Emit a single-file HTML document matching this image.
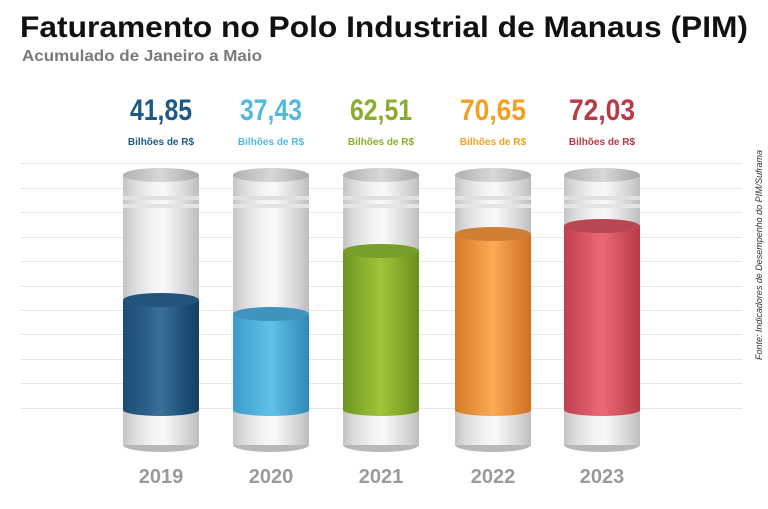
<!DOCTYPE html>
<html><head><style>
html,body{margin:0;padding:0;background:#fff;}
svg{display:block;font-family:"Liberation Sans",sans-serif;}
</style></head><body>
<svg width="768" height="509" viewBox="0 0 768 509" xmlns="http://www.w3.org/2000/svg">
<defs>
<linearGradient id="glass" x1="0" x2="1" y1="0" y2="0">
<stop offset="0" stop-color="#c4c4c4"/><stop offset="0.15" stop-color="#dcdcdc"/><stop offset="0.4" stop-color="#f4f4f4"/><stop offset="0.55" stop-color="#f8f8f8"/><stop offset="0.85" stop-color="#d4d4d4"/><stop offset="1" stop-color="#bdbdbd"/>
</linearGradient>
<linearGradient id="topin" x1="0" x2="1"><stop offset="0" stop-color="#b0b0b0"/><stop offset="0.5" stop-color="#d8d8d8"/><stop offset="1" stop-color="#a8a8a8"/></linearGradient>
<linearGradient id="g0" x1="0" x2="1"><stop offset="0" stop-color="#1d4d75"/><stop offset="0.3" stop-color="#2b5f8a"/><stop offset="0.5" stop-color="#3a7099"/><stop offset="0.8" stop-color="#1e4f78"/><stop offset="1" stop-color="#173f63"/></linearGradient>
<linearGradient id="g1" x1="0" x2="1"><stop offset="0" stop-color="#3a9cc9"/><stop offset="0.5" stop-color="#61c2ea"/><stop offset="1" stop-color="#2e88b5"/></linearGradient>
<linearGradient id="g2" x1="0" x2="1"><stop offset="0" stop-color="#6f9620"/><stop offset="0.5" stop-color="#9fc53a"/><stop offset="1" stop-color="#6a8f1c"/></linearGradient>
<linearGradient id="g3" x1="0" x2="1"><stop offset="0" stop-color="#d67a25"/><stop offset="0.5" stop-color="#fbaa55"/><stop offset="1" stop-color="#cf7020"/></linearGradient>
<linearGradient id="g4" x1="0" x2="1"><stop offset="0" stop-color="#c0404d"/><stop offset="0.5" stop-color="#ec6a77"/><stop offset="1" stop-color="#b83a47"/></linearGradient>
</defs>
<g stroke="#e6e6e6" stroke-width="1">
<line x1="20" x2="742" y1="163.5" y2="163.5"/><line x1="20" x2="742" y1="188.5" y2="188.5"/><line x1="20" x2="742" y1="212.5" y2="212.5"/><line x1="20" x2="742" y1="237.5" y2="237.5"/><line x1="20" x2="742" y1="261.5" y2="261.5"/><line x1="20" x2="742" y1="286.5" y2="286.5"/><line x1="20" x2="742" y1="310.5" y2="310.5"/><line x1="20" x2="742" y1="334.5" y2="334.5"/><line x1="20" x2="742" y1="359.5" y2="359.5"/><line x1="20" x2="742" y1="383.5" y2="383.5"/><line x1="20" x2="742" y1="408.5" y2="408.5"/>
</g>
<text x="20" y="37" font-size="30" font-weight="bold" fill="#111" textLength="728" lengthAdjust="spacingAndGlyphs">Faturamento no Polo Industrial de Manaus (PIM)</text>
<text x="22" y="61" font-size="16" font-weight="bold" fill="#7a7a7a" textLength="240" lengthAdjust="spacingAndGlyphs">Acumulado de Janeiro a Maio</text>
<text transform="translate(762,360) rotate(-90)" font-size="9" font-style="italic" fill="#333" textLength="210" lengthAdjust="spacingAndGlyphs">Fonte: Indicadores de Desempenho do PIM/Suframa</text>

<!-- cylinder template via repetition -->
<g id="c0">
<rect x="123" y="175" width="76" height="270" fill="url(#glass)"/>
<rect x="123" y="196" width="76" height="4" fill="#e0e0e0"/><rect x="123" y="204" width="76" height="4" fill="#e4e4e4"/>
<ellipse cx="161" cy="445" rx="38" ry="7" fill="#b8b8b8"/><rect x="123" y="436" width="76" height="9" fill="url(#glass)"/>
<ellipse cx="161" cy="175" rx="38" ry="7" fill="url(#topin)"/>
<rect x="123" y="300" width="76" height="110" fill="url(#g0)"/><ellipse cx="161" cy="410" rx="38" ry="6" fill="url(#g0)"/><ellipse cx="161" cy="300" rx="38" ry="7" fill="#24547c"/>
</g>
<g>
<rect x="233" y="175" width="76" height="270" fill="url(#glass)"/>
<rect x="233" y="196" width="76" height="4" fill="#e0e0e0"/><rect x="233" y="204" width="76" height="4" fill="#e4e4e4"/>
<ellipse cx="271" cy="445" rx="38" ry="7" fill="#b8b8b8"/><rect x="233" y="436" width="76" height="9" fill="url(#glass)"/>
<ellipse cx="271" cy="175" rx="38" ry="7" fill="url(#topin)"/>
<rect x="233" y="314" width="76" height="96" fill="url(#g1)"/><ellipse cx="271" cy="410" rx="38" ry="6" fill="url(#g1)"/><ellipse cx="271" cy="314" rx="38" ry="7" fill="#3f93bd"/>
</g>
<g>
<rect x="343" y="175" width="76" height="270" fill="url(#glass)"/>
<rect x="343" y="196" width="76" height="4" fill="#e0e0e0"/><rect x="343" y="204" width="76" height="4" fill="#e4e4e4"/>
<ellipse cx="381" cy="445" rx="38" ry="7" fill="#b8b8b8"/><rect x="343" y="436" width="76" height="9" fill="url(#glass)"/>
<ellipse cx="381" cy="175" rx="38" ry="7" fill="url(#topin)"/>
<rect x="343" y="251" width="76" height="159" fill="url(#g2)"/><ellipse cx="381" cy="410" rx="38" ry="6" fill="url(#g2)"/><ellipse cx="381" cy="251" rx="38" ry="7" fill="#789e2a"/>
</g>
<g>
<rect x="455" y="175" width="76" height="270" fill="url(#glass)"/>
<rect x="455" y="196" width="76" height="4" fill="#e0e0e0"/><rect x="455" y="204" width="76" height="4" fill="#e4e4e4"/>
<ellipse cx="493" cy="445" rx="38" ry="7" fill="#b8b8b8"/><rect x="455" y="436" width="76" height="9" fill="url(#glass)"/>
<ellipse cx="493" cy="175" rx="38" ry="7" fill="url(#topin)"/>
<rect x="455" y="234" width="76" height="176" fill="url(#g3)"/><ellipse cx="493" cy="410" rx="38" ry="6" fill="url(#g3)"/><ellipse cx="493" cy="234" rx="38" ry="7" fill="#cf7e34"/>
</g>
<g>
<rect x="564" y="175" width="76" height="270" fill="url(#glass)"/>
<rect x="564" y="196" width="76" height="4" fill="#e0e0e0"/><rect x="564" y="204" width="76" height="4" fill="#e4e4e4"/>
<ellipse cx="602" cy="445" rx="38" ry="7" fill="#b8b8b8"/><rect x="564" y="436" width="76" height="9" fill="url(#glass)"/>
<ellipse cx="602" cy="175" rx="38" ry="7" fill="url(#topin)"/>
<rect x="564" y="226" width="76" height="184" fill="url(#g4)"/><ellipse cx="602" cy="410" rx="38" ry="6" fill="url(#g4)"/><ellipse cx="602" cy="226" rx="38" ry="7" fill="#b84653"/>
</g>

<g font-weight="bold" text-anchor="middle">
<text x="161" y="120" font-size="30" fill="#1c5a85" textLength="62" lengthAdjust="spacingAndGlyphs">41,85</text>
<text x="271" y="120" font-size="30" fill="#55b8e2" textLength="62" lengthAdjust="spacingAndGlyphs">37,43</text>
<text x="381" y="120" font-size="30" fill="#8aad2f" textLength="62" lengthAdjust="spacingAndGlyphs">62,51</text>
<text x="493" y="120" font-size="30" fill="#f2a022" textLength="66" lengthAdjust="spacingAndGlyphs">70,65</text>
<text x="602" y="120" font-size="30" fill="#b83a45" textLength="66" lengthAdjust="spacingAndGlyphs">72,03</text>
<g font-size="10">
<text x="161" y="145" fill="#1c5a85">Bilhões de R$</text>
<text x="271" y="145" fill="#55b8e2">Bilhões de R$</text>
<text x="381" y="145" fill="#8aad2f">Bilhões de R$</text>
<text x="493" y="145" fill="#f2a022">Bilhões de R$</text>
<text x="602" y="145" fill="#b83a45">Bilhões de R$</text>
</g>
<g font-size="20" fill="#9a9a9a">
<text x="161" y="483">2019</text><text x="271" y="483">2020</text><text x="381" y="483">2021</text><text x="493" y="483">2022</text><text x="602" y="483">2023</text>
</g>
</g>
</svg>
</body></html>
